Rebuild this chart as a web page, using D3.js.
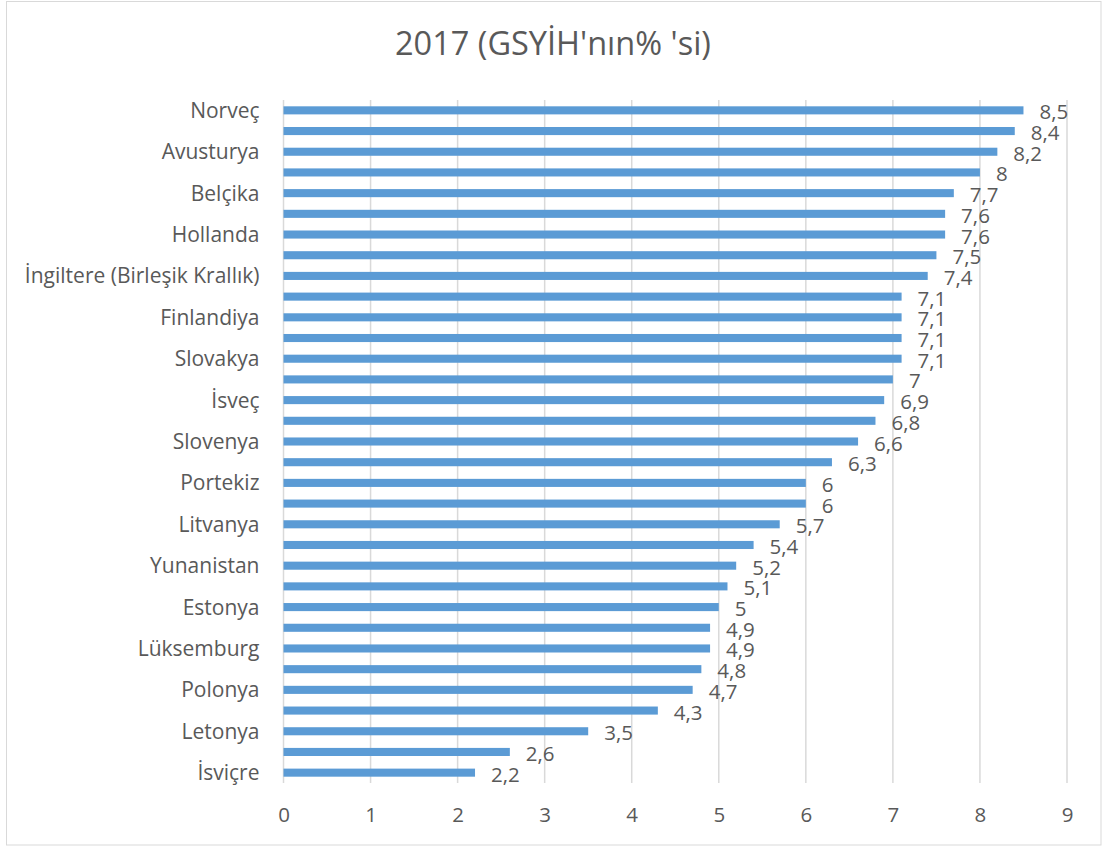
<!DOCTYPE html>
<html><head><meta charset="utf-8">
<script src="https://cdn.jsdelivr.net/npm/d3@7"></script>
<style>
html,body{margin:0;padding:0;background:#fff;}
svg text{font-family:"Open Sans",sans-serif;fill:#595959;}
</style></head>
<body><svg id="c" width="1103" height="849"></svg>
<script>
const title = "2017 (GSYİH'nın% 'si)";
const categories = ["Norveç","Almanya","Avusturya","Fransa","Belçika","Danimarka","Hollanda","Japonya","İngiltere (Birleşik Krallık)","İzlanda","Finlandiya","İrlanda","Slovakya","Avustralya","İsveç","Kanada","Slovenya","İtalya","Portekiz","Yeni Zelanda","Litvanya","İspanya","Yunanistan","Çekya","Estonya","İsrail","Lüksemburg","Macaristan","Polonya","Şili","Letonya","Meksika","İsviçre"];
const values = [8.5,8.4,8.2,8,7.7,7.6,7.6,7.5,7.4,7.1,7.1,7.1,7.1,7,6.9,6.8,6.6,6.3,6,6,5.7,5.4,5.2,5.1,5,4.9,4.9,4.8,4.7,4.3,3.5,2.6,2.2];
const xTicks = [0,1,2,3,4,5,6,7,8,9];

const svg = d3.select("#c");
const m = {left:283.5, right:1067, top:100, bottom:783};

svg.append("rect").attr("x",6.5).attr("y",1.5).attr("width",1094.5).attr("height",843.5)
  .attr("fill","#fff").attr("stroke","#d9d9d9").attr("stroke-width",1);

svg.append("text").attr("x",553).attr("y",55).attr("text-anchor","middle")
  .style("font-size","32.5px").text(title);

const x = d3.scaleLinear().domain([0,9]).range([m.left,m.right]);
const y = d3.scaleBand().domain(categories).range([m.top,m.bottom]).paddingInner(0.61).paddingOuter(0.305);

// gridlines
svg.append("g").selectAll("line").data(xTicks).join("line")
  .attr("x1",d=>x(d)).attr("x2",d=>x(d)).attr("y1",m.top).attr("y2",m.bottom)
  .attr("stroke","#d9d9d9").attr("stroke-width",1.5);

// bars
svg.append("g").selectAll("rect").data(values).join("rect")
  .attr("x",x(0)).attr("y",(d,i)=>y(categories[i]))
  .attr("width",d=>x(d)-x(0)).attr("height",y.bandwidth())
  .attr("fill","#5b9bd5");

// data labels
svg.append("g").selectAll("text").data(values).join("text")
  .attr("x",d=>x(d)+16).attr("y",(d,i)=>y(categories[i])+y.bandwidth()/2+9)
  .style("font-size","20.5px")
  .text(d=>String(d).replace(".",","));

// y axis
const yAxis = d3.axisLeft(y).tickSize(0).tickPadding(24)
  .tickValues(categories.filter((c,i)=>i%2===0));
const gy = svg.append("g").attr("transform",`translate(${m.left},0)`).call(yAxis);
gy.select(".domain").remove();
gy.selectAll("text").style("font-size","21px").attr("dy","0.36em").style("fill","#595959");

// x axis
const xAxis = d3.axisBottom(x).tickValues(xTicks).tickSize(0).tickPadding(24).tickFormat(d3.format("d"));
const gx = svg.append("g").attr("transform",`translate(0,${m.bottom})`).call(xAxis);
gx.select(".domain").remove();
gx.selectAll("text").style("font-size","20.5px").style("fill","#595959");
</script></body></html>
